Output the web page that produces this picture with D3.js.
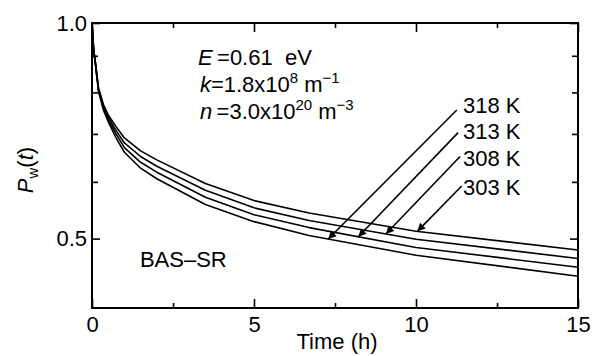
<!DOCTYPE html>
<html><head><meta charset="utf-8">
<script src="https://cdn.jsdelivr.net/npm/d3@7"></script>
<style>
body{margin:0;background:#fff;}
text{font-family:"Liberation Sans",Arial,sans-serif;fill:#000;}
</style></head>
<body><svg id="c" width="594" height="356"></svg>
<script>
// ---- data ----
const times = [0, 0.05, 0.1, 0.2, 0.35, 0.5, 0.75, 1, 1.5, 2, 3.5, 5, 6.7, 10, 15];
const p303 = [1.0, 0.920, 0.885, 0.812, 0.770, 0.744, 0.716, 0.691, 0.663, 0.644, 0.597, 0.565, 0.543, 0.512, 0.482];
const p308 = [1.0, 0.919, 0.883, 0.809, 0.766, 0.739, 0.707, 0.680, 0.651, 0.631, 0.584, 0.552, 0.530, 0.499, 0.469];
const p313 = [1.0, 0.918, 0.882, 0.806, 0.761, 0.733, 0.699, 0.670, 0.639, 0.619, 0.571, 0.540, 0.518, 0.486, 0.456];
const p318 = [1.0, 0.917, 0.880, 0.803, 0.757, 0.728, 0.690, 0.660, 0.627, 0.606, 0.558, 0.528, 0.505, 0.474, 0.443];
const seriesNames = ["303 K", "308 K", "313 K", "318 K"];
const seriesValues = [p303, p308, p313, p318];
// arrow annotations: tip time on the curve, arrow tail and label position (time, P)
const arrowTipT = [10.04, 9.07, 8.22, 7.29];
const arrowStart = [[11.41, 0.592], [11.36, 0.651], [11.30, 0.703], [11.26, 0.756]];
const labelPos = [[11.45, 0.576], [11.45, 0.631], [11.45, 0.689], [11.45, 0.749]];
const xMajorTicks = [0, 5, 10, 15];
const xMinorTicks = [2.5, 7.5, 12.5];
const yMajorTicks = [0.5, 1.0];
const yMinorTicks = [0.6, 0.7, 0.8, 0.9];
const xDomain = [0, 15];
const yDomain = [0.4, 1.0];

// ---- layout ----
const svg = d3.select("#c");
const L = 92, R = 578, T = 23, B = 308;
const x = d3.scaleLinear().domain(xDomain).range([L, R]);
const y = d3.scaleLog().domain(yDomain).range([B, T]);
const FS = 22;

// axes (ticks inward)
svg.append("g").attr("transform", `translate(0,${B})`)
  .call(d3.axisBottom(x).tickValues(xMajorTicks).tickSize(-9).tickPadding(8).tickFormat(d3.format("d")));
svg.append("g").attr("transform", `translate(0,${B})`)
  .call(d3.axisBottom(x).tickValues(xMinorTicks).tickSize(-5).tickFormat(""));
svg.append("g").attr("transform", `translate(0,${T})`)
  .call(d3.axisTop(x).tickValues(xMajorTicks).tickSize(-9).tickFormat(""));
svg.append("g").attr("transform", `translate(0,${T})`)
  .call(d3.axisTop(x).tickValues(xMinorTicks).tickSize(-5).tickFormat(""));
svg.append("g").attr("transform", `translate(${L},0)`)
  .call(d3.axisLeft(y).tickValues(yMajorTicks).tickSize(-8).tickPadding(5).tickFormat(d3.format(".1f")));
svg.append("g").attr("transform", `translate(${L},0)`)
  .call(d3.axisLeft(y).tickValues(yMinorTicks).tickSize(-6).tickFormat(""));
svg.append("g").attr("transform", `translate(${R},0)`)
  .call(d3.axisRight(y).tickValues(yMajorTicks).tickSize(-8).tickFormat(""));
svg.append("g").attr("transform", `translate(${R},0)`)
  .call(d3.axisRight(y).tickValues(yMinorTicks).tickSize(-6).tickFormat(""));
svg.selectAll(".domain").remove();
svg.selectAll(".tick line").attr("stroke", "#000").attr("stroke-width", 1.6);
svg.selectAll(".tick text").attr("font-size", FS).attr("font-family", "'Liberation Sans',Arial,sans-serif").attr("fill", "#000");

// frame
svg.append("rect").attr("x", L).attr("y", T).attr("width", R - L).attr("height", B - T)
  .attr("fill", "none").attr("stroke", "#000").attr("stroke-width", 2);

// curves
const line = d3.line().x((d, i) => x(times[i])).y(d => y(d));
svg.append("g").selectAll("path").data(seriesValues).join("path")
  .attr("d", d => line(d)).attr("fill", "none").attr("stroke", "#000")
  .attr("stroke-width", 1.6).attr("stroke-linejoin", "round");

// arrows
svg.append("defs").append("marker").attr("id", "ah").attr("viewBox", "0 0 10 10")
  .attr("refX", 10).attr("refY", 5).attr("markerWidth", 10).attr("markerHeight", 8)
  .attr("markerUnits", "userSpaceOnUse").attr("orient", "auto")
  .append("path").attr("d", "M0,0L10,5L0,10Z").attr("fill", "#000");
const interp = (vals, t) => {
  const i = d3.bisectRight(times, t) - 1;
  const f = (t - times[i]) / (times[i + 1] - times[i]);
  return Math.exp(Math.log(vals[i]) * (1 - f) + Math.log(vals[i + 1]) * f);
};
seriesValues.forEach((vals, k) => {
  const tt = arrowTipT[k];
  svg.append("line")
    .attr("x1", x(arrowStart[k][0])).attr("y1", y(arrowStart[k][1]))
    .attr("x2", x(tt)).attr("y2", y(interp(vals, tt)))
    .attr("stroke", "#000").attr("stroke-width", 1.6).attr("marker-end", "url(#ah)");
  svg.append("text").attr("x", x(labelPos[k][0])).attr("y", y(labelPos[k][1]))
    .attr("font-size", FS).text(seriesNames[k]);
});

// parameter annotations
const ann = svg.append("g").attr("font-size", FS);
const t1 = ann.append("text").attr("x", x(3.27)).attr("y", y(0.873));
t1.append("tspan").attr("font-style", "italic").text("E");
t1.append("tspan").text("\u2009=0.61\u00A0\u00A0eV");
const t2 = ann.append("text").attr("x", x(3.33)).attr("y", y(0.802));
t2.append("tspan").attr("font-style", "italic").text("k");
t2.append("tspan").text("=1.8x10");
t2.append("tspan").attr("font-size", 15).attr("dy", -9).text("8");
t2.append("tspan").attr("dy", 9).text("\u00A0m");
t2.append("tspan").attr("font-size", 15).attr("dy", -9).text("\u22121");
const t3 = ann.append("text").attr("x", x(3.33)).attr("y", y(0.735));
t3.append("tspan").attr("font-style", "italic").text("n");
t3.append("tspan").text("\u2009=3.0x10");
t3.append("tspan").attr("font-size", 15).attr("dy", -9).text("20");
t3.append("tspan").attr("dy", 9).text("\u00A0m");
t3.append("tspan").attr("font-size", 15).attr("dy", -9).text("\u22123");

svg.append("text").attr("x", x(1.48)).attr("y", y(0.456)).attr("font-size", FS).text("BAS\u2013SR");

// axis titles
svg.append("text").attr("x", (L + R) / 2 + 2).attr("y", 349).attr("text-anchor", "middle")
  .attr("font-size", FS).text("Time (h)");
const yl = svg.append("text").attr("transform", "translate(33,170) rotate(-90)")
  .attr("text-anchor", "middle").attr("font-size", FS);
yl.append("tspan").attr("font-style", "italic").text("P");
yl.append("tspan").attr("font-size", 15).attr("dy", 5).text("w");
yl.append("tspan").attr("dy", -5).text("(");
yl.append("tspan").attr("font-style", "italic").text("t");
yl.append("tspan").text(")");
</script></body></html>
